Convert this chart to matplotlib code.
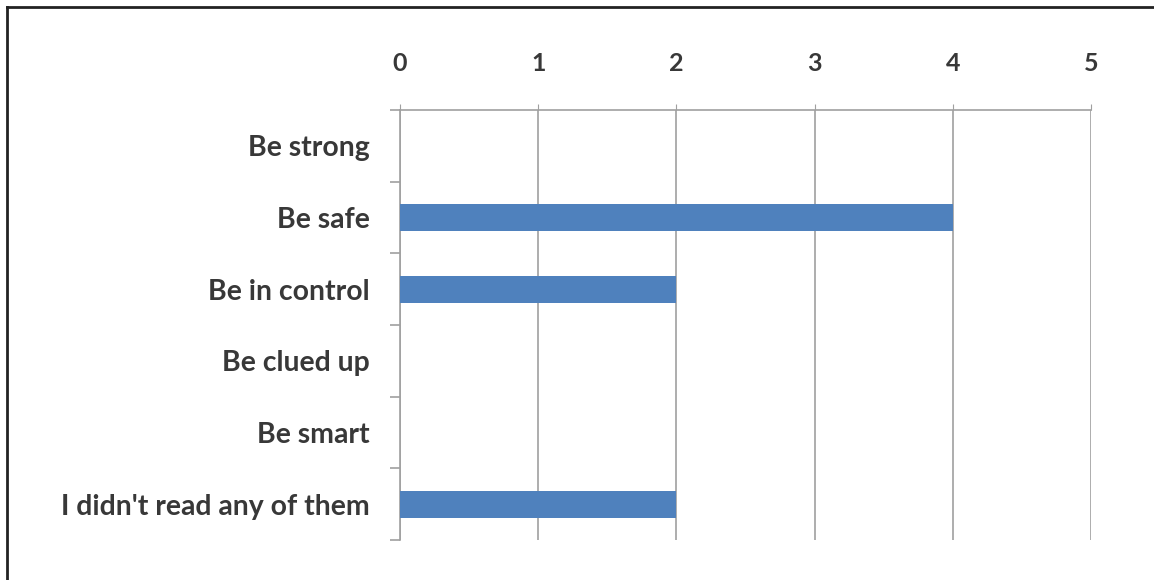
import matplotlib.pyplot as plt
from matplotlib.lines import Line2D

categories = ["Be strong", "Be safe", "Be in control", "Be clued up", "Be smart",
              "I didn't read any of them"]
counts = [0, 4, 2, 0, 0, 2]
x_ticks = [0, 1, 2, 3, 4, 5]

BAR_COLOR = "#4f81bd"
GRID_COLOR = "#a0a0a0"
TEXT_COLOR = "#383838"

plt.rcParams["font.family"] = ["Lato", "DejaVu Sans"]

fig = plt.figure(figsize=(11.54, 5.8), dpi=100)
ax = fig.add_axes([400 / 1154, 1 - 540 / 580, 691 / 1154, 430 / 580])

pos = list(range(len(categories)))
ax.barh(pos, counts, height=0.38, color=BAR_COLOR, zorder=3)

ax.set_xlim(0, 5)
ax.set_ylim(len(categories) - 0.5, -0.5)

ax.xaxis.tick_top()
ax.set_xticks(x_ticks)
ax.set_xticklabels([str(t) for t in x_ticks], fontsize=18, fontweight="bold",
                   color=TEXT_COLOR)
ax.tick_params(axis="x", which="major", length=4, color=GRID_COLOR, pad=21)
ax.grid(axis="x", color=GRID_COLOR, linewidth=1.2, zorder=1)

ax.set_yticks(pos)
ax.set_yticklabels(categories, fontsize=20.4, fontweight="bold", color=TEXT_COLOR)
ax.set_yticks([p - 0.5 for p in pos] + [len(pos) - 0.5], minor=True)
ax.tick_params(axis="y", which="major", length=0, pad=22)
ax.tick_params(axis="y", which="minor", length=7, color=GRID_COLOR, width=1.2)

for side in ["right", "bottom"]:
    ax.spines[side].set_visible(False)
for side in ["left", "top"]:
    ax.spines[side].set_color(GRID_COLOR)
    ax.spines[side].set_linewidth(1.2)

# outer frame (only left and top edges are in view)
fig.add_artist(Line2D([7 / 1154, 7 / 1154], [0, 1 - 7 / 580], color="#222222",
                      linewidth=2, transform=fig.transFigure))
fig.add_artist(Line2D([7 / 1154, 1], [1 - 7 / 580, 1 - 7 / 580], color="#222222",
                      linewidth=2, transform=fig.transFigure))

fig.savefig("out.png", dpi=100, facecolor="white")
